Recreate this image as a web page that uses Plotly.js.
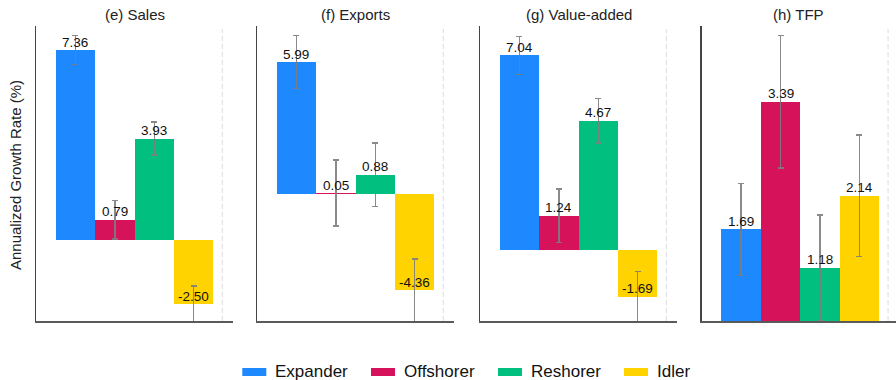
<!DOCTYPE html>
<html>
<head>
<meta charset="utf-8">
<script src="https://cdn.plot.ly/plotly-3.0.1.min.js"></script>
<style>html,body{margin:0;padding:0;background:#fff;}#chart{width:896px;height:380px;}</style>
</head>
<body>
<div id="chart"></div>
<script>
// ---- data ----
const categories = ['Expander', 'Offshorer', 'Reshorer', 'Idler'];
const panelTitles = ['(e) Sales', '(f) Exports', '(g) Value-added', '(h) TFP'];
const salesVals   = [7.36, 0.79, 3.93, -2.50];
const salesErr    = [0.56, 0.75, 0.64, 0.72];
const exportsVals = [5.99, 0.05, 0.88, -4.36];
const exportsErr  = [1.20, 1.50, 1.44, 1.43];
const vaVals      = [7.04, 1.24, 4.67, -1.69];
const vaErr       = [0.69, 0.96, 0.80, 0.91];
const tfpVals     = [1.69, 3.39, 1.18, 2.14];
const tfpErr      = [0.61, 0.88, 0.70, 0.81];

// ---- styles ----
const colors = ['#1E88FF', '#D6135A', '#00BF7F', '#FFD300'];
const FONT = 'Liberation Sans, Arial, Helvetica, sans-serif';
const panelVals = [salesVals, exportsVals, vaVals, tfpVals];
const panelErr = [salesErr, exportsErr, vaErr, tfpErr];
const yRanges = [[-3.14, 8.29], [-5.75, 7.63], [-2.57, 8.10], [0.47, 4.40]];

const W = 896, H = 380;
const mL = 36, mR = 0, mT = 26, mB = 59;
const plotW = W - mL - mR, plotH = H - mT - mB;
const pxPerUnit = 39.4;
const panelLeft = [0, 221, 444, 665.7];
const panelWidth = 197;

const xIdx = categories.map((c, i) => i);
const traces = [];
const annotations = [];
const shapes = [];
const layout = {
  width: W, height: H,
  margin: {l: mL, r: mR, t: mT, b: mB, pad: 0},
  paper_bgcolor: '#fff', plot_bgcolor: '#fff',
  showlegend: false,
  bargap: 0,
  font: {family: FONT, color: '#222'},
};

for (let p = 0; p < 4; p++) {
  const sfx = p === 0 ? '' : String(p + 1);
  const x0 = panelLeft[p] / plotW;
  const w = Math.min(panelWidth, plotW - panelLeft[p]);
  const x1 = (panelLeft[p] + w) / plotW;
  traces.push({
    type: 'bar',
    x: xIdx,
    y: panelVals[p],
    width: 1,
    marker: {color: colors, line: {width: 0}},
    error_y: {type: 'data', array: panelErr[p], visible: true,
              color: 'rgba(125,125,125,0.9)', thickness: 1.4, width: 3},
    xaxis: 'x' + sfx, yaxis: 'y' + sfx,
    hoverinfo: 'skip',
    cliponaxis: true,
  });
  layout['xaxis' + sfx] = {
    domain: [x0, x1],
    range: [-1, -1 + w / pxPerUnit],
    showline: true, linecolor: '#5a5a5a', linewidth: 1.5,
    showticklabels: false, ticks: '', showgrid: false, zeroline: false,
    anchor: 'y' + sfx, fixedrange: true,
  };
  layout['yaxis' + sfx] = {
    domain: [0, 1],
    range: yRanges[p],
    showline: true, linecolor: '#444', linewidth: 1.5,
    showticklabels: false, ticks: '', showgrid: false, zeroline: false,
    anchor: 'x' + sfx, fixedrange: true,
  };
  // dashed guide line
  shapes.push({
    type: 'line', xref: 'x' + sfx, yref: 'y' + sfx + ' domain',
    x0: 3.73, x1: 3.73, y0: 0, y1: 0.99,
    line: {color: '#e3e3e3', width: 1.2, dash: '5px,3px'},
    layer: 'below',
  });
  // panel title
  annotations.push({
    xref: 'paper', yref: 'paper',
    x: (x0 + x1) / 2, y: (plotH + mT - 15) / plotH,
    xanchor: 'center', yanchor: 'middle',
    text: panelTitles[p], showarrow: false,
    font: {size: 15, family: FONT, color: '#222'},
  });
  // value labels
  panelVals[p].forEach((v, i) => {
    annotations.push({
      xref: 'x' + sfx, yref: 'y' + sfx,
      x: xIdx[i], y: v,
      xanchor: 'center', yanchor: 'bottom', yshift: -1.5,
      text: v.toFixed(2), showarrow: false,
      font: {size: 13.5, family: FONT, color: '#111'},
    });
  });
}

// y-axis title
annotations.push({
  xref: 'paper', yref: 'paper',
  x: (15 - mL) / plotW, y: (plotH + mT - 175) / plotH,
  xanchor: 'center', yanchor: 'middle', textangle: -90,
  text: 'Annualized Growth Rate (%)', showarrow: false,
  font: {size: 15, family: FONT, color: '#222'},
});

// custom legend
const legSwatchX = [242.3, 371, 498, 624];
const legY = 371;
categories.forEach((c, i) => {
  const sx = legSwatchX[i];
  shapes.push({
    type: 'rect', xref: 'paper', yref: 'paper',
    x0: (sx - mL) / plotW, x1: (sx + 24 - mL) / plotW,
    y0: (plotH + mT - (legY + 5)) / plotH, y1: (plotH + mT - (legY - 3)) / plotH,
    fillcolor: colors[i], line: {width: 0},
  });
  annotations.push({
    xref: 'paper', yref: 'paper',
    x: (sx + 32 - mL) / plotW, y: (plotH + mT - legY) / plotH,
    xanchor: 'left', yanchor: 'middle', borderpad: 0,
    text: c, showarrow: false,
    font: {size: 17, family: FONT, color: '#111'},
  });
});

layout.annotations = annotations;
layout.shapes = shapes;

Plotly.newPlot('chart', traces, layout, {staticPlot: true, displayModeBar: false});
</script>
</body>
</html>
